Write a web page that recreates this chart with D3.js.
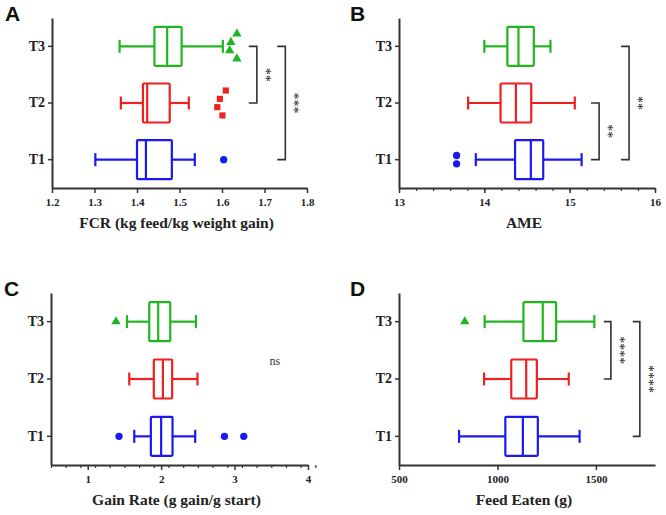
<!DOCTYPE html>
<html>
<head>
<meta charset="utf-8">
<script src="https://cdn.jsdelivr.net/npm/d3@7"></script>
<style>
  body { margin: 0; background: #fff; }
  svg { display: block; }
  .tick text { font-family: "Liberation Serif", serif; font-weight: bold; fill: #222; }
</style>
</head>
<body>
<div id="chart"></div>
<script>
// groups drawn top to bottom
const groups = ["T3", "T2", "T1"];
const groupColors = ["#22b522", "#f02020", "#1a1aee"];
const groupShapes = ["triangle", "square", "circle"];

// box stats per group: [whisker low, Q1, median, Q3, whisker high], order T3, T2, T1
const fcrStats = [[1.359, 1.441, 1.471, 1.505, 1.602], [1.362, 1.414, 1.424, 1.477, 1.522], [1.302, 1.400, 1.421, 1.482, 1.536]];
const fcrOutliers = [[1.635, 1.621, 1.618, 1.635], [1.609, 1.595, 1.589, 1.601], [1.604]];
const fcrTicks = [1.2, 1.3, 1.4, 1.5, 1.6, 1.7, 1.8];

const ameStats = [[14.00, 14.27, 14.40, 14.58, 14.775], [13.81, 14.19, 14.37, 14.55, 15.06], [13.90, 14.36, 14.545, 14.69, 15.14]];
const ameOutliers = [[], [], [13.675, 13.675]];
const ameTicks = [13, 14, 15, 16];

const gainStats = [[1.535, 1.838, 1.96, 2.124, 2.473], [1.566, 1.90, 2.024, 2.15, 2.495], [1.634, 1.86, 2.0, 2.155, 2.464]];
const gainOutliers = [[1.385], [], [1.426, 2.862, 3.125]];
const gainTicks = [1, 2, 3, 4];

const feedStats = [[935, 1132, 1230, 1298, 1492], [932, 1070, 1146, 1200, 1362], [805, 1040, 1129, 1205, 1417]];
const feedOutliers = [[834], [], []];
const feedTicks = [500, 1000, 1500];

// significance brackets: [from group, to group, label]
const fcrSig = [["T3", "T2", "**"], ["T3", "T1", "***"]];
const ameSig = [["T2", "T1", "**"], ["T3", "T1", "**"]];
const feedSig = [["T3", "T2", "****"], ["T3", "T1", "****"]];

const panels = [
  {letter: "A", stats: fcrStats, outliers: fcrOutliers, ticks: fcrTicks, domain: [1.2, 1.8], minor: null,
   title: "FCR (kg feed/kg weight gain)", sig: fcrSig, sigAt: [1.682, 1.749], sigW: 0.019,
   left: 52, right: 307, top: 18, bottom: 188, fmt: d3.format(".1f")},
  {letter: "B", stats: ameStats, outliers: ameOutliers, ticks: ameTicks, domain: [13, 16], minor: 0.2,
   title: "AME", sig: ameSig, sigAt: [15.345, 15.696], sigW: 0.095,
   left: 399, right: 655, top: 18, bottom: 188, fmt: d3.format("d")},
  {letter: "C", stats: gainStats, outliers: gainOutliers, ticks: gainTicks, domain: [0.5, 4], minor: 0.2,
   title: "Gain Rate (g gain/g start)", sig: [], ns: [3.55, "T2"],
   left: 51, right: 308, top: 293, bottom: 465, fmt: d3.format("d")},
  {letter: "D", stats: feedStats, outliers: feedOutliers, ticks: feedTicks, domain: [500, 1800], minor: null,
   title: "Feed Eaten  (g)", sig: feedSig, sigAt: [1576, 1723], sigW: 36,
   left: 399, right: 655, top: 293, bottom: 465, fmt: d3.format("d")}
];

const svg = d3.select("#chart").append("svg")
  .attr("width", 666)
  .attr("height", 515);

const axisColor = "#333";

function symbolFor(shape) {
  if (shape === "triangle") return d3.symbol().type(d3.symbolTriangle).size(38);
  if (shape === "square") return d3.symbol().type(d3.symbolSquare).size(38);
  return d3.symbol().type(d3.symbolCircle).size(42);
}

panels.forEach(p => {
  const g = svg.append("g");

  const x = d3.scaleLinear().domain(p.domain).range([p.left, p.right]);
  const y = d3.scaleBand().domain(groups).range([p.top, p.bottom]);
  const cy = d => y(d) + y.bandwidth() / 2;
  const boxH = 39, capH = 13;

  // minor ticks
  if (p.minor) {
    const n = Math.round((p.domain[1] - p.domain[0]) / p.minor);
    const minorVals = d3.range(n + 1).map(i => p.domain[0] + i * p.minor);
    g.append("g")
      .attr("transform", `translate(0,${p.bottom})`)
      .call(d3.axisBottom(x).tickValues(minorVals).tickSize(3).tickFormat("").tickSizeOuter(0))
      .call(a => a.select(".domain").remove())
      .call(a => a.selectAll("line").attr("stroke", axisColor).attr("stroke-width", 1.2));
  }

  // x axis
  g.append("g")
    .attr("transform", `translate(0,${p.bottom})`)
    .call(d3.axisBottom(x).tickValues(p.ticks).tickFormat(p.fmt).tickSize(5).tickSizeOuter(0).tickPadding(5))
    .call(a => a.select(".domain").attr("stroke", axisColor).attr("stroke-width", 2))
    .call(a => a.selectAll("line").attr("stroke", axisColor).attr("stroke-width", 1.5))
    .call(a => a.selectAll("text").attr("font-size", 11));

  // y axis
  g.append("g")
    .attr("transform", `translate(${p.left},0)`)
    .call(d3.axisLeft(y).tickSize(4).tickSizeOuter(0).tickPadding(3))
    .call(a => a.select(".domain").attr("stroke", axisColor).attr("stroke-width", 2))
    .call(a => a.selectAll("line").attr("stroke", axisColor).attr("stroke-width", 1.5))
    .call(a => a.selectAll("text").attr("font-size", 14));

  // axis title
  g.append("text")
    .attr("x", (p.left + p.right) / 2 - 3)
    .attr("y", p.bottom + 40)
    .attr("text-anchor", "middle")
    .attr("font-family", "Liberation Serif, serif")
    .attr("font-weight", "bold")
    .attr("font-size", 15.5)
    .attr("fill", "#222")
    .text(p.title);

  // panel letter
  g.append("text")
    .attr("x", p.left - (p.letter === "A" || p.letter === "C" ? 47 : 49))
    .attr("y", p.top + 3)
    .attr("font-family", "Liberation Sans, Arial, sans-serif")
    .attr("font-weight", "bold")
    .attr("font-size", 21)
    .attr("fill", "#111")
    .text(p.letter);

  // boxes
  groups.forEach((grp, i) => {
    const s = p.stats[i];
    const col = groupColors[i];
    const c = cy(grp);
    const bg = g.append("g").attr("stroke", col).attr("stroke-width", 2.2).attr("fill", "none");
    bg.append("line").attr("x1", x(s[0])).attr("x2", x(s[1])).attr("y1", c).attr("y2", c);
    bg.append("line").attr("x1", x(s[3])).attr("x2", x(s[4])).attr("y1", c).attr("y2", c);
    bg.append("line").attr("x1", x(s[0])).attr("x2", x(s[0])).attr("y1", c - capH / 2).attr("y2", c + capH / 2);
    bg.append("line").attr("x1", x(s[4])).attr("x2", x(s[4])).attr("y1", c - capH / 2).attr("y2", c + capH / 2);
    bg.append("rect").attr("x", x(s[1])).attr("y", c - boxH / 2)
      .attr("width", x(s[3]) - x(s[1])).attr("height", boxH).attr("rx", 1);
    bg.append("line").attr("x1", x(s[2])).attr("x2", x(s[2])).attr("y1", c - boxH / 2).attr("y2", c + boxH / 2);

    // outliers: points close together are stacked vertically
    const pts = p.outliers[i];
    const clusters = [];
    pts.forEach(v => {
      const last = clusters[clusters.length - 1];
      if (last && Math.abs(x(v) - x(last[last.length - 1])) < 15) last.push(v);
      else clusters.push([v]);
    });
    const step = 8.3;
    clusters.forEach(cl => {
      cl.forEach((v, k) => {
        const off = (k - (cl.length - 1) / 2) * step;
        g.append("path")
          .attr("d", symbolFor(groupShapes[i])())
          .attr("transform", `translate(${x(v)},${c + off})`)
          .attr("fill", col);
      });
    });
  });

  // significance brackets
  p.sig.forEach((sg, k) => {
    const xv = x(p.sigAt[k]);
    const xl = x(p.sigAt[k] - p.sigW);
    const y1 = cy(sg[0]), y2 = cy(sg[1]);
    g.append("path")
      .attr("d", `M${xl},${y1}H${xv}V${y2}H${xl}`)
      .attr("fill", "none")
      .attr("stroke", axisColor)
      .attr("stroke-width", 1.6);
    const ty = (y1 + y2) / 2;
    g.append("text")
      .attr("transform", `translate(${xv + 4},${ty}) rotate(90)`)
      .attr("text-anchor", "middle")
      .attr("font-family", "Liberation Serif, serif")
      .attr("font-size", 14)
      .attr("fill", "#222")
      .text(sg[2]);
  });

  if (p.ns) {
    g.append("text")
      .attr("x", x(p.ns[0]))
      .attr("y", cy(p.ns[1]) - 14)
      .attr("text-anchor", "middle")
      .attr("font-family", "Liberation Serif, serif")
      .attr("font-size", 12)
      .attr("fill", "#333")
      .text("ns");
  }
});
</script>
</body>
</html>
